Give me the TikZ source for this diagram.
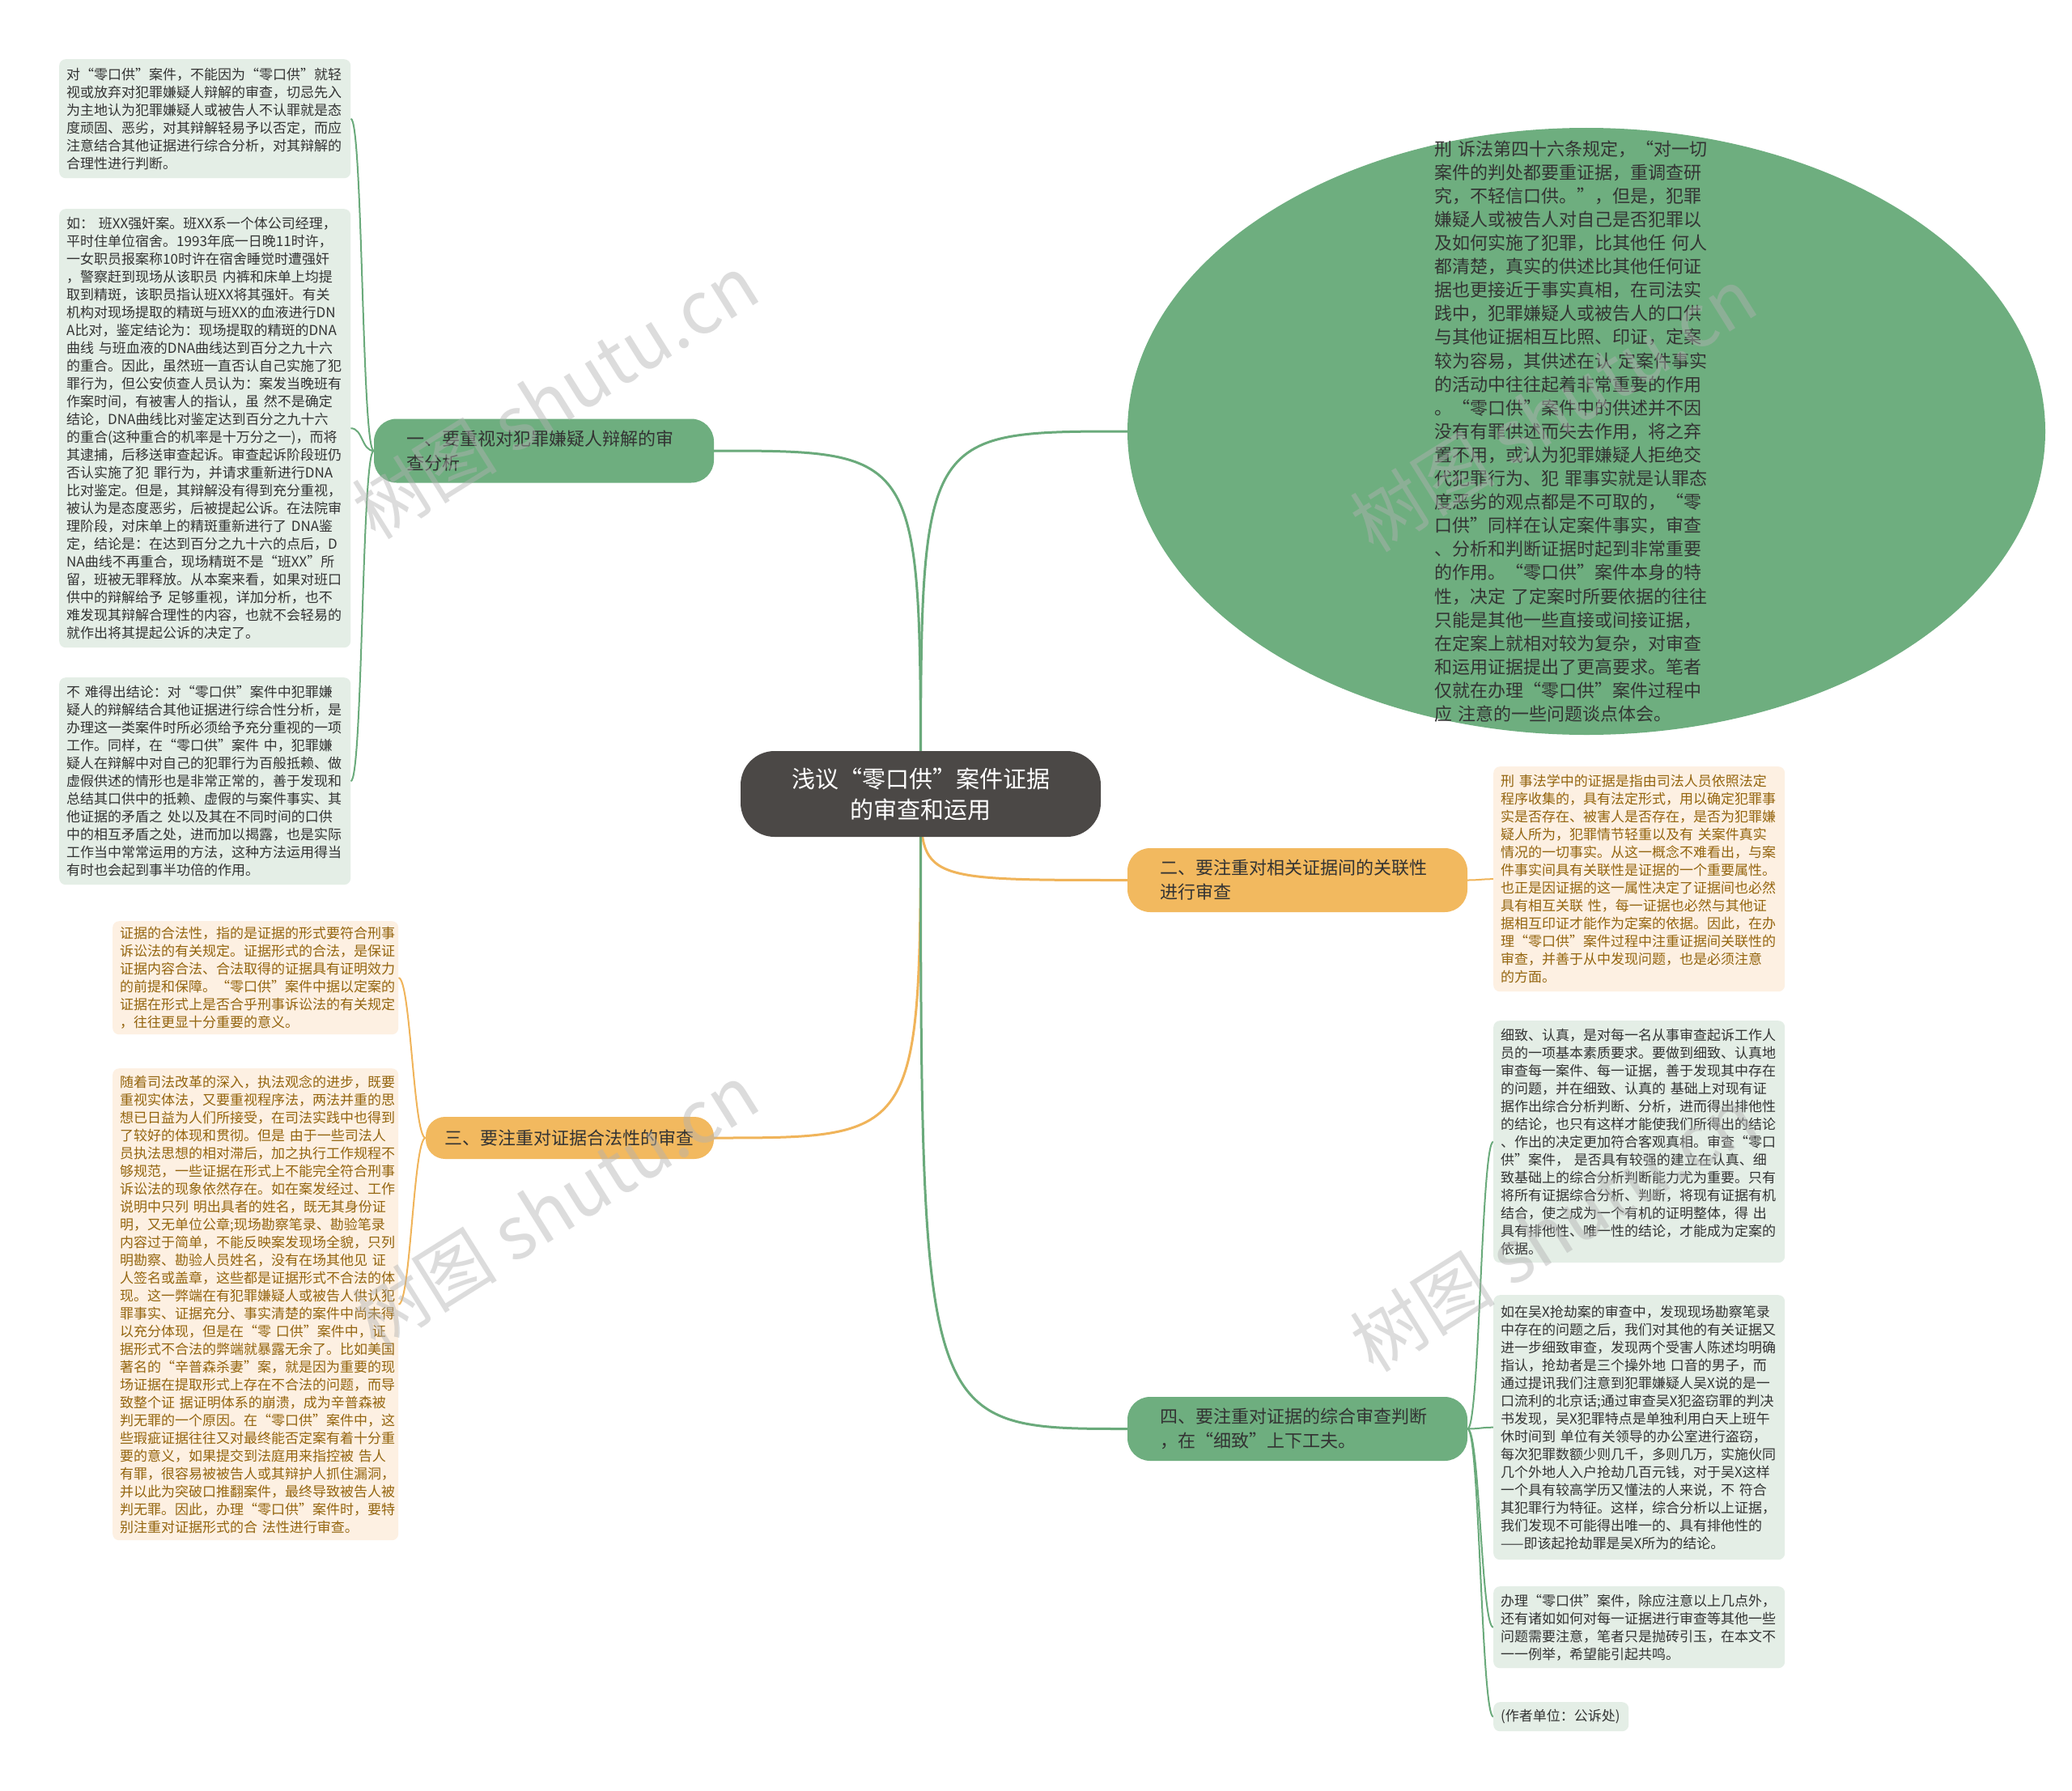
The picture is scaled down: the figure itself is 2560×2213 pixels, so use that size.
\documentclass[tikz,border=0pt]{standalone}
\usepackage{fontspec}
\setmainfont{Noto Sans CJK SC}
\usetikzlibrary{shapes.geometric,backgrounds,calc}
\definecolor{gline}{HTML}{6AAA7B}
\definecolor{oline}{HTML}{F0B45A}
\definecolor{gfill}{HTML}{6EAE7F}
\definecolor{ofill}{HTML}{F2B95F}
\definecolor{cfill}{HTML}{4B4846}
\definecolor{lgfill}{HTML}{E4EEE6}
\definecolor{lofill}{HTML}{FDF0E2}
\definecolor{tdark}{HTML}{333333}
\definecolor{tbrown}{HTML}{94650F}
\tikzset{
  leafg/.style={fill=lgfill, rounded corners=8pt, anchor=north west, align=left,
    inner xsep=9pt, inner ysep=6pt, text=tdark, text width=342pt, minimum width=360pt,
    font=\fontsize{17}{22}\selectfont},
  leafo/.style={leafg, fill=lofill, text=tbrown, text width=335pt, minimum width=353pt},
  branchg/.style={fill=gfill, rounded corners=28pt, align=left, text=tdark,
    minimum width=420pt, minimum height=79pt, text width=340pt, inner sep=0pt,
    font=\fontsize{22}{30}\selectfont},
  brancho/.style={branchg, fill=ofill},
  gmain/.style={draw=gline, line width=3pt},
  omain/.style={draw=oline, line width=3pt},
  gthin/.style={draw=gline, line width=2pt},
  othin/.style={draw=oline, line width=2pt},
  wmark/.style={text=black!30, text opacity=0.45, rotate=32, font=\fontsize{90}{90}\selectfont}
}
\begin{document}
\begin{tikzpicture}[x=1pt,y=-1pt]
\begin{scope}[on background layer]
\fill[white] (0,0) rectangle (2560,2213);
\end{scope}
\useasboundingbox (0,0) rectangle (2560,2213);

% central node
\node[fill=cfill, rounded corners=42pt, minimum width=445pt, minimum height=106pt,
  text=white, align=center, font=\fontsize{29}{38}\selectfont] (c) at (1137.5,981)
  {浅议“零口供”案件证据\\的审查和运用};

% ellipse
\node[ellipse, fill=gfill, minimum width=1134pt, minimum height=750pt, inner sep=0pt] (el) at (1960,533) {};
\node[text=tdark, align=left, text width=338pt, inner sep=0pt, font=\fontsize{22}{29.1}\selectfont] (elt) at (1941,533) {刑 诉法第四十六条规定，“对一切\\
案件的判处都要重证据，重调查研\\
究，不轻信口供。”，但是，犯罪\\
嫌疑人或被告人对自己是否犯罪以\\
及如何实施了犯罪，比其他任 何人\\
都清楚，真实的供述比其他任何证\\
据也更接近于事实真相，在司法实\\
践中，犯罪嫌疑人或被告人的口供\\
与其他证据相互比照、印证，定案\\
较为容易，其供述在认 定案件事实\\
的活动中往往起着非常重要的作用\\
。“零口供”案件中的供述并不因\\
没有有罪供述而失去作用，将之弃\\
置不用，或认为犯罪嫌疑人拒绝交\\
代犯罪行为、犯 罪事实就是认罪态\\
度恶劣的观点都是不可取的，“零\\
口供”同样在认定案件事实，审查\\
、分析和判断证据时起到非常重要\\
的作用。“零口供”案件本身的特\\
性，决定 了定案时所要依据的往往\\
只能是其他一些直接或间接证据，\\
在定案上就相对较为复杂，对审查\\
和运用证据提出了更高要求。笔者\\
仅就在办理“零口供”案件过程中\\
应 注意的一些问题谈点体会。};

% branches
\node[branchg] (b1) at (672,557) {一、要重视对犯罪嫌疑人辩解的审\\查分析};
\node[brancho] (b2) at (1603,1087.5) {二、要注重对相关证据间的关联性\\进行审查};
\node[brancho, minimum width=356pt, minimum height=52pt, text width=310pt, rounded corners=24pt] (b3) at (704,1406) {三、要注重对证据合法性的审查};
\node[branchg] (b4) at (1603,1765.5) {四、要注重对证据的综合审查判断\\，在“细致”上下工夫。};

% left green leaves
\node[leafg, minimum height=147pt] (l1) at (73,73) {对“零口供”案件，不能因为“零口供”就轻\\
视或放弃对犯罪嫌疑人辩解的审查，切忌先入\\
为主地认为犯罪嫌疑人或被告人不认罪就是态\\
度顽固、恶劣，对其辩解轻易予以否定，而应\\
注意结合其他证据进行综合分析，对其辩解的\\
合理性进行判断。};
\node[leafg, minimum height=542pt] (l2) at (73,258) {如： 班XX强奸案。班XX系一个体公司经理，\\
平时住单位宿舍。1993年底一日晚11时许，\\
一女职员报案称10时许在宿舍睡觉时遭强奸\\
，警察赶到现场从该职员 内裤和床单上均提\\
取到精斑，该职员指认班XX将其强奸。有关\\
机构对现场提取的精斑与班XX的血液进行DN\\
A比对，鉴定结论为：现场提取的精斑的DNA\\
曲线 与班血液的DNA曲线达到百分之九十六\\
的重合。因此，虽然班一直否认自己实施了犯\\
罪行为，但公安侦查人员认为：案发当晚班有\\
作案时间，有被害人的指认，虽 然不是确定\\
结论，DNA曲线比对鉴定达到百分之九十六\\
的重合(这种重合的机率是十万分之一)，而将\\
其逮捕，后移送审查起诉。审查起诉阶段班仍\\
否认实施了犯 罪行为，并请求重新进行DNA\\
比对鉴定。但是，其辩解没有得到充分重视，\\
被认为是态度恶劣，后被提起公诉。在法院审\\
理阶段，对床单上的精斑重新进行了 DNA鉴\\
定，结论是：在达到百分之九十六的点后，D\\
NA曲线不再重合，现场精斑不是“班XX”所\\
留，班被无罪释放。从本案来看，如果对班口\\
供中的辩解给予 足够重视，详加分析，也不\\
难发现其辩解合理性的内容，也就不会轻易的\\
就作出将其提起公诉的决定了。};
\node[leafg, minimum height=256pt] (l3) at (73,837) {不 难得出结论：对“零口供”案件中犯罪嫌\\
疑人的辩解结合其他证据进行综合性分析，是\\
办理这一类案件时所必须给予充分重视的一项\\
工作。同样，在“零口供”案件 中，犯罪嫌\\
疑人在辩解中对自己的犯罪行为百般抵赖、做\\
虚假供述的情形也是非常正常的，善于发现和\\
总结其口供中的抵赖、虚假的与案件事实、其\\
他证据的矛盾之 处以及其在不同时间的口供\\
中的相互矛盾之处，进而加以揭露，也是实际\\
工作当中常常运用的方法，这种方法运用得当\\
有时也会起到事半功倍的作用。};

% left orange leaves
\node[leafo, minimum height=140pt] (o1) at (139,1138) {证据的合法性，指的是证据的形式要符合刑事\\
诉讼法的有关规定。证据形式的合法，是保证\\
证据内容合法、合法取得的证据具有证明效力\\
的前提和保障。“零口供”案件中据以定案的\\
证据在形式上是否合乎刑事诉讼法的有关规定\\
，往往更显十分重要的意义。};
\node[leafo, minimum height=583pt] (o2) at (139,1320) {随着司法改革的深入，执法观念的进步，既要\\
重视实体法，又要重视程序法，两法并重的思\\
想已日益为人们所接受，在司法实践中也得到\\
了较好的体现和贯彻。但是 由于一些司法人\\
员执法思想的相对滞后，加之执行工作规程不\\
够规范，一些证据在形式上不能完全符合刑事\\
诉讼法的现象依然存在。如在案发经过、工作\\
说明中只列 明出具者的姓名，既无其身份证\\
明，又无单位公章;现场勘察笔录、勘验笔录\\
内容过于简单，不能反映案发现场全貌，只列\\
明勘察、勘验人员姓名，没有在场其他见 证\\
人签名或盖章，这些都是证据形式不合法的体\\
现。这一弊端在有犯罪嫌疑人或被告人供认犯\\
罪事实、证据充分、事实清楚的案件中尚未得\\
以充分体现，但是在“零 口供”案件中，证\\
据形式不合法的弊端就暴露无余了。比如美国\\
著名的“辛普森杀妻”案，就是因为重要的现\\
场证据在提取形式上存在不合法的问题，而导\\
致整个证 据证明体系的崩溃，成为辛普森被\\
判无罪的一个原因。在“零口供”案件中，这\\
些瑕疵证据往往又对最终能否定案有着十分重\\
要的意义，如果提交到法庭用来指控被 告人\\
有罪，很容易被被告人或其辩护人抓住漏洞，\\
并以此为突破口推翻案件，最终导致被告人被\\
判无罪。因此，办理“零口供”案件时，要特\\
别注重对证据形式的合 法性进行审查。};

% right orange leaf
\node[leafo, minimum height=278pt, text width=342pt, minimum width=360pt] (r1) at (1845,947) {刑 事法学中的证据是指由司法人员依照法定\\
程序收集的，具有法定形式，用以确定犯罪事\\
实是否存在、被害人是否存在，是否为犯罪嫌\\
疑人所为，犯罪情节轻重以及有 关案件真实\\
情况的一切事实。从这一概念不难看出，与案\\
件事实间具有关联性是证据的一个重要属性。\\
也正是因证据的这一属性决定了证据间也必然\\
具有相互关联 性，每一证据也必然与其他证\\
据相互印证才能作为定案的依据。因此，在办\\
理“零口供”案件过程中注重证据间关联性的\\
审查，并善于从中发现问题，也是必须注意\\
的方面。};

% right green leaves
\node[leafg, minimum height=299pt] (g1) at (1845,1261) {细致、认真，是对每一名从事审查起诉工作人\\
员的一项基本素质要求。要做到细致、认真地\\
审查每一案件、每一证据，善于发现其中存在\\
的问题，并在细致、认真的 基础上对现有证\\
据作出综合分析判断、分析，进而得出排他性\\
的结论，也只有这样才能使我们所得出的结论\\
、作出的决定更加符合客观真相。审查“零口\\
供”案件， 是否具有较强的建立在认真、细\\
致基础上的综合分析判断能力尤为重要。只有\\
将所有证据综合分析、判断，将现有证据有机\\
结合，使之成为一个有机的证明整体，得 出\\
具有排他性、唯一性的结论，才能成为定案的\\
依据。};
\node[leafg, minimum height=327pt] (g2) at (1845,1600) {如在吴X抢劫案的审查中，发现现场勘察笔录\\
中存在的问题之后，我们对其他的有关证据又\\
进一步细致审查，发现两个受害人陈述均明确\\
指认，抢劫者是三个操外地 口音的男子，而\\
通过提讯我们注意到犯罪嫌疑人吴X说的是一\\
口流利的北京话;通过审查吴X犯盗窃罪的判决\\
书发现，吴X犯罪特点是单独利用白天上班午\\
休时间到 单位有关领导的办公室进行盗窃，\\
每次犯罪数额少则几千，多则几万，实施伙同\\
几个外地人入户抢劫几百元钱，对于吴X这样\\
一个具有较高学历又懂法的人来说，不 符合\\
其犯罪行为特征。这样，综合分析以上证据，\\
我们发现不可能得出唯一的、具有排他性的\\
——即该起抢劫罪是吴X所为的结论。};
\node[leafg, minimum height=101pt] (g3) at (1845,1960) {办理“零口供”案件，除应注意以上几点外，\\
还有诸如如何对每一证据进行审查等其他一些\\
问题需要注意，笔者只是抛砖引玉，在本文不\\
一一例举，希望能引起共鸣。};
\node[leafg, text width=149pt, minimum width=167pt, minimum height=36pt] (g4) at (1845,2103) {(作者单位：公诉处)};

% connectors
\begin{scope}[on background layer]
\draw[gmain] (c.center) .. controls (c.center |- el.west) .. (el.west);
\draw[gmain] (c.center) .. controls (c.center |- b1.east) .. (b1.east);
\draw[omain] (c.center) .. controls (c.center |- b2.west) .. (b2.west);
\draw[omain] (c.center) .. controls (c.center |- b3.east) .. (b3.east);
\draw[gmain] (c.center) .. controls (c.center |- b4.west) .. (b4.west);
\draw[gthin] (b1.west) .. controls +(-15,0) and +(15,0) .. (l1.east);
\draw[gthin] (b1.west) .. controls +(-15,0) and +(15,0) .. (l2.east);
\draw[gthin] (b1.west) .. controls +(-15,0) and +(15,0) .. (l3.east);
\draw[othin] (b3.west) .. controls +(-15,0) and +(15,0) .. (o1.east);
\draw[othin] (b3.west) .. controls +(-15,0) and +(15,0) .. (o2.east);
\draw[othin] (b2.east) .. controls +(15,0) and +(-15,0) .. (r1.west);
\draw[gthin] (b4.east) .. controls +(15,0) and +(-15,0) .. (g1.west);
\draw[gthin] (b4.east) .. controls +(15,0) and +(-15,0) .. (g2.west);
\draw[gthin] (b4.east) .. controls +(15,0) and +(-15,0) .. (g3.west);
\draw[gthin] (b4.east) .. controls +(15,0) and +(-15,0) .. (g4.west);
\end{scope}

% watermarks
\node[wmark] (w1) at (686,490) {树图 shutu.cn};
\node[wmark] (w2) at (1919,506) {树图 shutu.cn};
\node[wmark] (w3) at (686,1490) {树图 shutu.cn};
\node[wmark] (w4) at (1919,1519) {树图 shutu.cn};
\end{tikzpicture}
\end{document}
